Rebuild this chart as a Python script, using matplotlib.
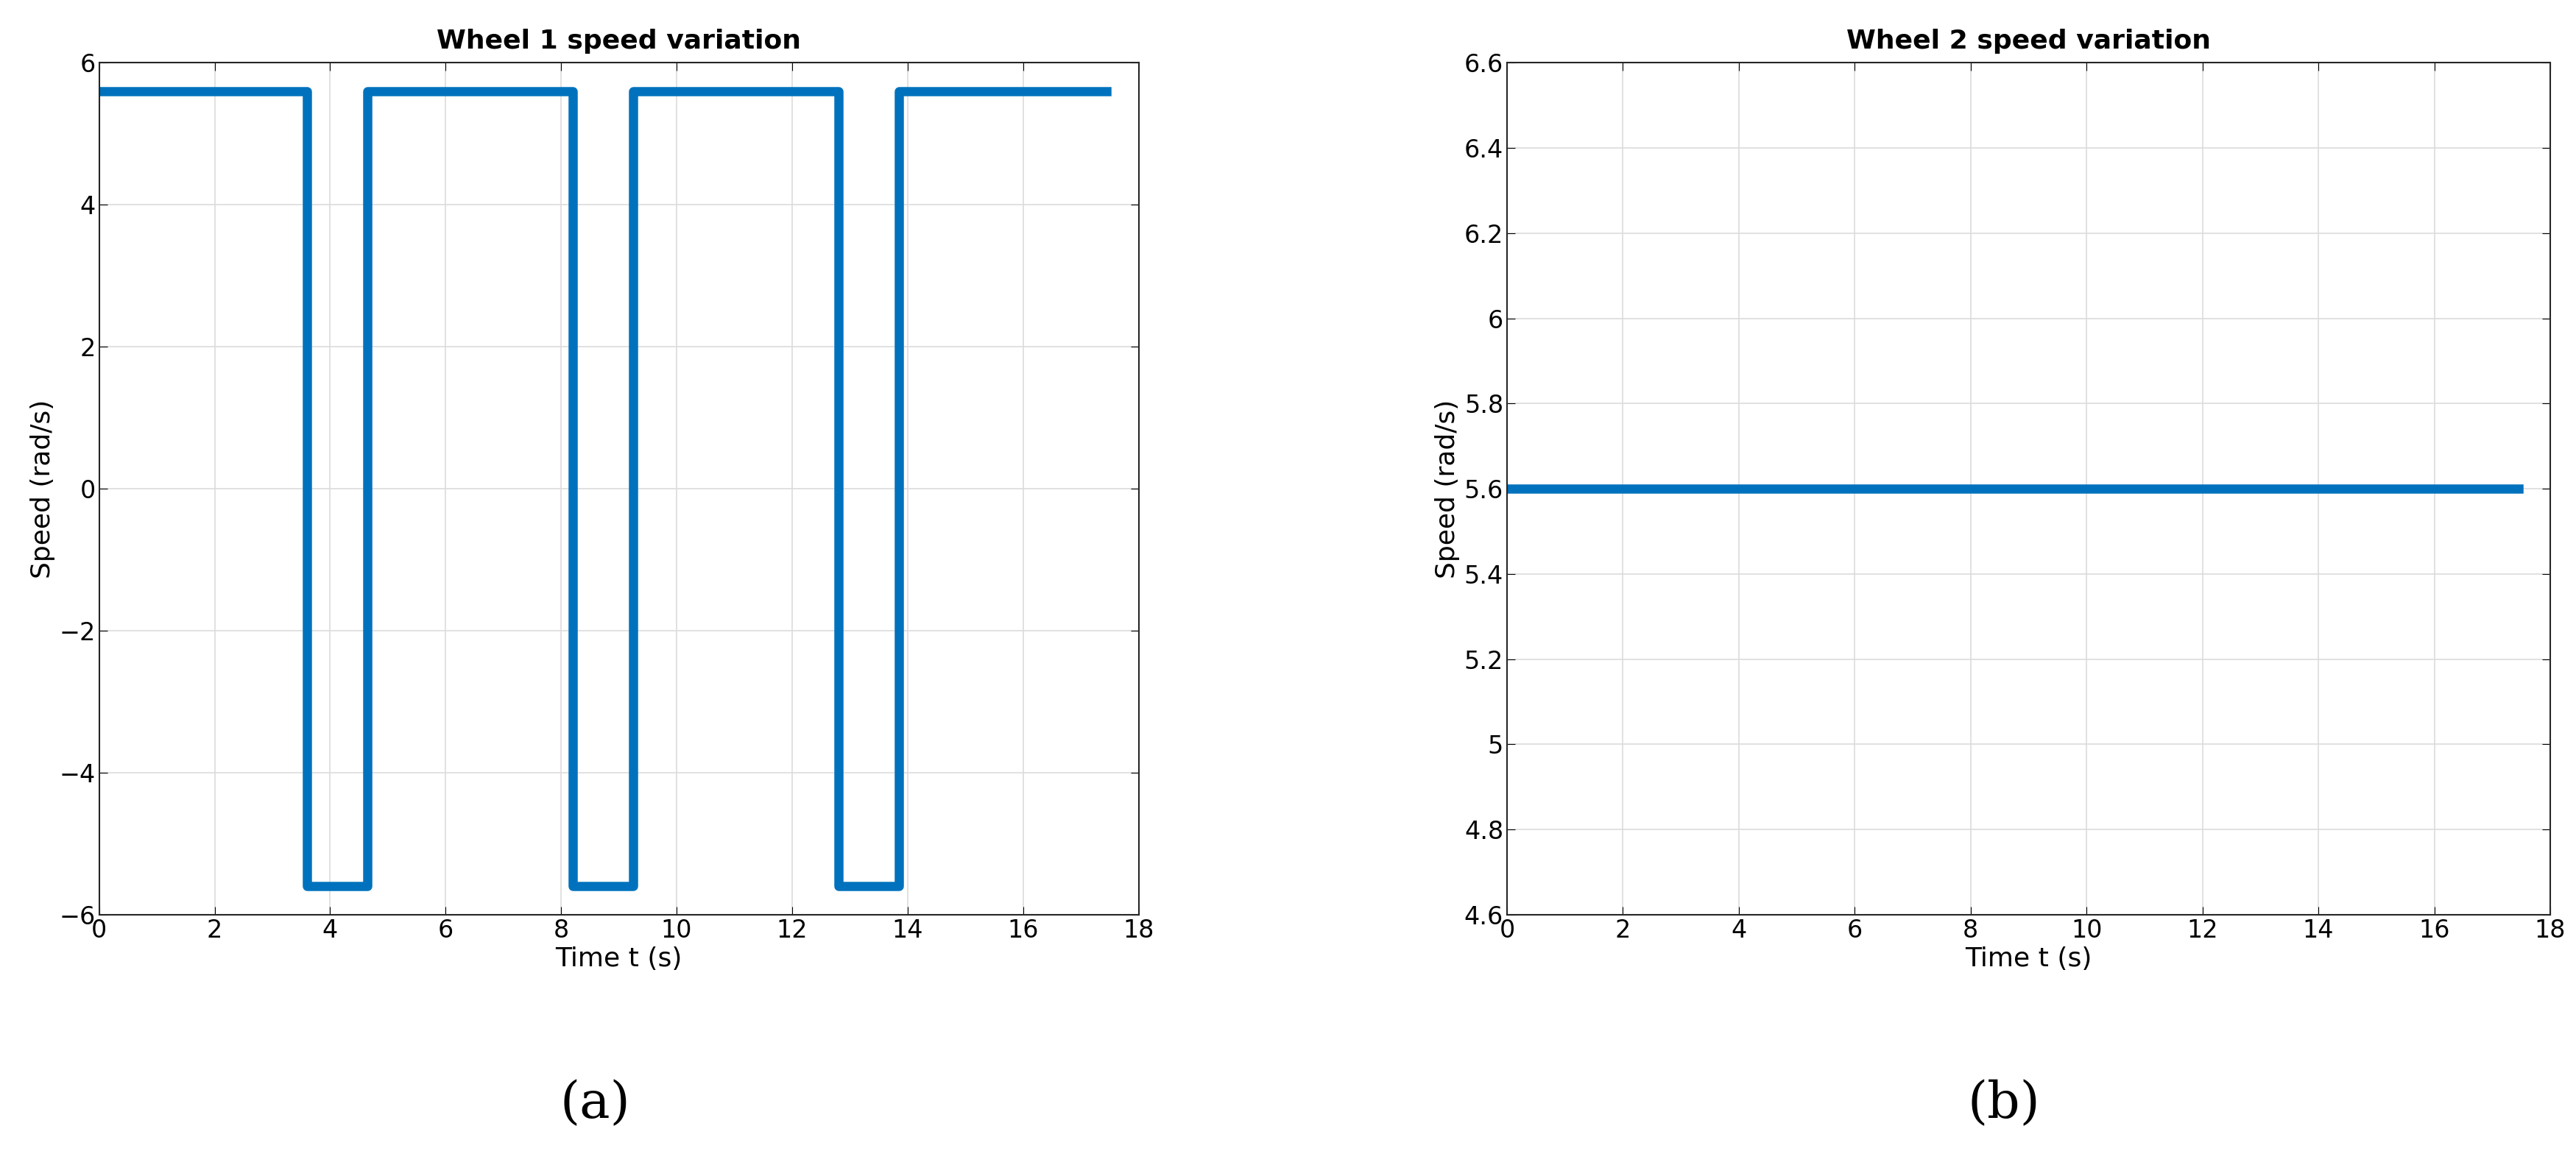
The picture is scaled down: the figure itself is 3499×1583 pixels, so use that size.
import matplotlib
matplotlib.use("Agg")
import matplotlib.pyplot as plt

# wheel 1: square wave between +5.6 and -5.6
t1 = [0, 3.6, 3.6, 4.65, 4.65, 8.2, 8.2, 9.25, 9.25, 12.8, 12.8, 13.85, 13.85, 17.45]
w1 = [5.6, 5.6, -5.6, -5.6, 5.6, 5.6, -5.6, -5.6, 5.6, 5.6, -5.6, -5.6, 5.6, 5.6]
# wheel 2: constant
t2 = [0, 17.45]
w2 = [5.6, 5.6]

blue = "#0072BD"
fig = plt.figure(figsize=(34.99, 15.83), dpi=100)
ax1 = fig.add_axes([0.0385, 0.215, 0.4035, 0.731])
ax2 = fig.add_axes([0.585, 0.215, 0.405, 0.731])

def style(ax, title):
    ax.set_title(title, fontsize=26, fontweight="bold", pad=14)
    ax.set_xlabel("Time t (s)", fontsize=26)
    ax.set_ylabel("Speed (rad/s)", fontsize=26)
    ax.grid(True, color="#dcdcdc", linewidth=1.2)
    ax.tick_params(labelsize=24, direction="in", length=8, top=True, right=True, labeltop=False, labelright=False)
    ax.set_xlim(0, 18)
    ax.set_xticks(range(0, 19, 2))
    for s in ax.spines.values():
        s.set_linewidth(1.5)
        s.set_color("#262626")

ax1.plot(t1, w1, color=blue, linewidth=9)
style(ax1, "Wheel 1 speed variation")
ax1.set_ylim(-6, 6)
ax1.set_yticks(range(-6, 7, 2))

ax2.plot(t2, w2, color=blue, linewidth=9)
style(ax2, "Wheel 2 speed variation")
ax2.set_ylim(4.6, 6.6)
ax2.set_yticks([4.6, 4.8, 5, 5.2, 5.4, 5.6, 5.8, 6, 6.2, 6.4, 6.6])
ax2.set_yticklabels(["4.6", "4.8", "5", "5.2", "5.4", "5.6", "5.8", "6", "6.2", "6.4", "6.6"])

fig.text(0.231, 0.04, "(a)", fontsize=50, family="DejaVu Serif", ha="center")
fig.text(0.778, 0.04, "(b)", fontsize=50, family="DejaVu Serif", ha="center")

fig.savefig("out.png", dpi=100)
